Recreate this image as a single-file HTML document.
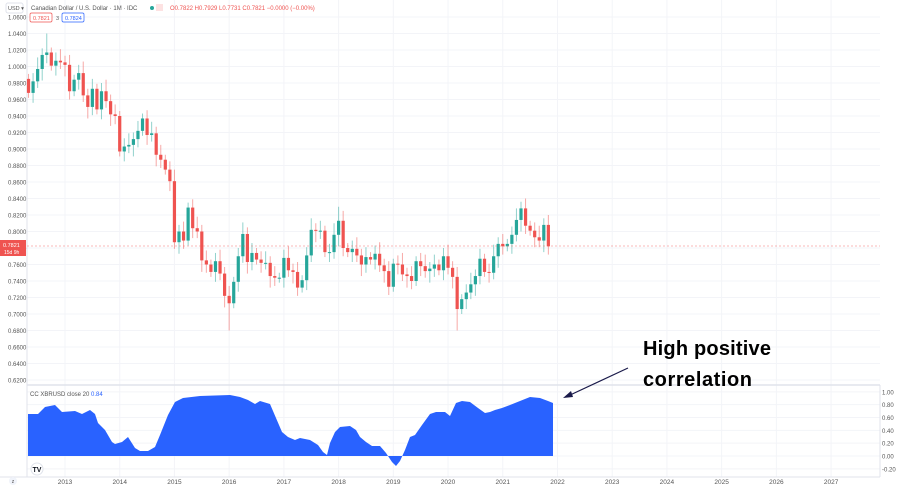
<!DOCTYPE html>
<html><head><meta charset="utf-8"><style>
html,body{margin:0;padding:0;background:#fff;width:900px;height:486px;overflow:hidden;font-family:"Liberation Sans",sans-serif}
</style></head><body>
<svg id="s" width="900" height="486" xmlns="http://www.w3.org/2000/svg" font-family="Liberation Sans, sans-serif"></svg>
<script>
const s=document.getElementById('s');let h='';
const py=p=>17+(1.06-p)/0.02*16.5;
const iy=v=>456-v/0.2*12.83;
const mx=m=>65+m*4.56;
for(let y=2013;y<=2027;y++){const x=65+(y-2013)*54.72;h+=`<line x1="${x}" y1="0" x2="${x}" y2="477" stroke="#f3f4f8"/>`;h+=`<text x="${x}" y="484" font-size="6.5" fill="#555" text-anchor="middle">${y}</text>`;}
for(let k=0;k<=22;k++){const p=1.06-k*0.02;const y=py(p);h+=`<line x1="27" y1="${y}" x2="880" y2="${y}" stroke="#f3f4f8"/>`;h+=`<text x="8" y="${y+2.5}" font-size="6" fill="#555">${p.toFixed(4)}</text>`;}
for(let k=0;k<=6;k++){const v=1-k*0.2;const y=iy(v);h+=`<line x1="27" y1="${y}" x2="880" y2="${y}" stroke="#f3f4f8"/>`;h+=`<text x="882" y="${y+2.5}" font-size="6" fill="#555">${v.toFixed(2)}</text>`;}
h+=`<line x1="27" y1="0" x2="27" y2="477" stroke="#e0e3eb"/><line x1="880" y1="385" x2="880" y2="477" stroke="#e0e3eb"/><line x1="27" y1="385" x2="880" y2="385" stroke="#e0e3eb" stroke-width="1.5"/><line x1="0" y1="477" x2="880" y2="477" stroke="#e0e3eb"/>`;
const c=[0.968,0.982,0.997,1.014,1.017,1.001,1.007,1.005,1.002,0.970,0.984,0.992,0.965,0.951,0.973,0.948,0.970,0.958,0.942,0.940,0.897,0.903,0.905,0.912,0.922,0.937,0.917,0.919,0.893,0.887,0.875,0.861,0.787,0.800,0.789,0.829,0.804,0.800,0.765,0.760,0.751,0.764,0.749,0.722,0.713,0.739,0.770,0.797,0.763,0.774,0.766,0.762,0.762,0.746,0.744,0.744,0.768,0.753,0.751,0.732,0.741,0.771,0.802,0.801,0.801,0.775,0.775,0.796,0.813,0.780,0.775,0.779,0.771,0.760,0.769,0.766,0.773,0.759,0.752,0.733,0.761,0.760,0.748,0.746,0.740,0.764,0.758,0.752,0.755,0.760,0.753,0.770,0.756,0.745,0.706,0.718,0.726,0.736,0.746,0.767,0.751,0.750,0.770,0.785,0.782,0.785,0.796,0.814,0.828,0.807,0.801,0.793,0.789,0.808,0.782];
let prev=0.985;
c.forEach((cl,i)=>{const m=i-8,x=mx(m),o=prev;const up=cl>=o;const col=up?'#26a69a':'#ef5350';
let hi=Math.max(o,cl)+0.006+((i*7)%5)*0.002,lo=Math.min(o,cl)-0.006-((i*3)%5)*0.002;
if(i==44)lo=0.68;if(i==94)lo=0.68;if(i==4)hi=1.04;if(i==68)hi=0.83;
const y1=py(Math.max(o,cl)),y2=py(Math.min(o,cl));
h+=`<line x1="${x}" y1="${py(hi)}" x2="${x}" y2="${py(lo)}" stroke="${col}" stroke-opacity="0.5"/>`;
h+=`<rect x="${x-1.6}" y="${y1}" width="3.2" height="${Math.max(1,y2-y1)}" fill="${col}"/>`;prev=cl;});
h+=`<line x1="27" y1="246" x2="880" y2="246" stroke="#ef5350" stroke-opacity="0.4" stroke-dasharray="2,2"/>`;
h+=`<rect x="0" y="240" width="26" height="16" fill="#ef5350"/><text x="3" y="247" font-size="5.5" fill="#fff">0.7821</text><text x="4" y="254" font-size="5" fill="#fff">15d 9h</text>`;
const pts=[[28,414],[38,414],[45,407],[55,405],[62,412],[75,411],[82,414],[90,410],[95,414],[98,423],[105,430],[112,442],[115,444],[122,442],[128,437],[135,448],[140,451],[148,451],[155,447],[160,435],[168,415],[175,402],[183,398],[200,396],[230,395],[240,397],[248,400],[255,404],[260,401],[270,404],[276,418],[282,432],[288,437],[295,440],[300,438],[310,440],[318,445],[323,452],[327,455],[330,443],[335,432],[340,427],[350,426],[356,430],[360,437],[366,442],[372,446],[380,446],[386,453],[392,462],[396,466],[400,461],[405,450],[410,437],[415,435],[422,425],[430,414],[436,412],[445,412],[450,416],[456,403],[462,401],[470,402],[478,408],[485,413],[490,412],[495,410],[502,408],[510,405],[520,401],[530,397],[540,398],[548,401],[553,403]];
h+=`<polygon points="28,456 ${pts.map(p=>p.join(',')).join(' ')} 553,456" fill="#2962ff"/>`;
h+=`<text x="30" y="396" font-size="6" fill="#555">CC XBRUSD close 20 <tspan fill="#2962ff">0.84</tspan></text>`;
h+=`<circle cx="37" cy="469" r="6" fill="#fff" stroke="#e0e3eb"/><text x="37" y="472" font-size="7" font-weight="bold" text-anchor="middle" fill="#131722">TV</text>`;
h+=`<circle cx="13" cy="481" r="4" fill="#f0f3fa"/><text x="13" y="483" font-size="5" text-anchor="middle" fill="#555">z</text>`;
h+=`<rect x="6" y="3" width="17" height="10" rx="2" fill="#fff" stroke="#e0e3eb"/><text x="8" y="10" font-size="5.5" fill="#555">USD ▾</text>`;
h+=`<text x="31" y="10" font-size="6" fill="#555">Canadian Dollar / U.S. Dollar · 1M · IDC</text>`;
h+=`<circle cx="152" cy="8" r="2" fill="#26a69a"/><rect x="156" y="4" width="7" height="7" fill="#fde2e2"/>`;
h+=`<text x="170" y="10" font-size="6" fill="#ef5350">O0.7822 H0.7929 L0.7731 C0.7821 −0.0000 (−0.00%)</text>`;
h+=`<rect x="30" y="13" width="22" height="9" rx="1.5" fill="#fff" stroke="#ef5350" stroke-width="0.7"/><text x="33" y="20" font-size="5.5" fill="#ef5350">0.7821</text><text x="56" y="20" font-size="5.5" fill="#555">3</text>`;
h+=`<rect x="62" y="13" width="22" height="9" rx="1.5" fill="#fff" stroke="#2962ff" stroke-width="0.7"/><text x="65" y="20" font-size="5.5" fill="#2962ff">0.7824</text>`;
h+=`<text x="643" y="355" font-size="20" font-weight="bold" fill="#000" textLength="128">High positive</text><text x="643" y="386" font-size="20" font-weight="bold" fill="#000" textLength="109">correlation</text>`;
h+=`<line x1="628" y1="368" x2="568" y2="396" stroke="#1a1a4a" stroke-width="1.2"/><polygon points="563,398 571,391 573,397" fill="#1a1a4a"/>`;
s.innerHTML=h;
</script>
</body></html>
